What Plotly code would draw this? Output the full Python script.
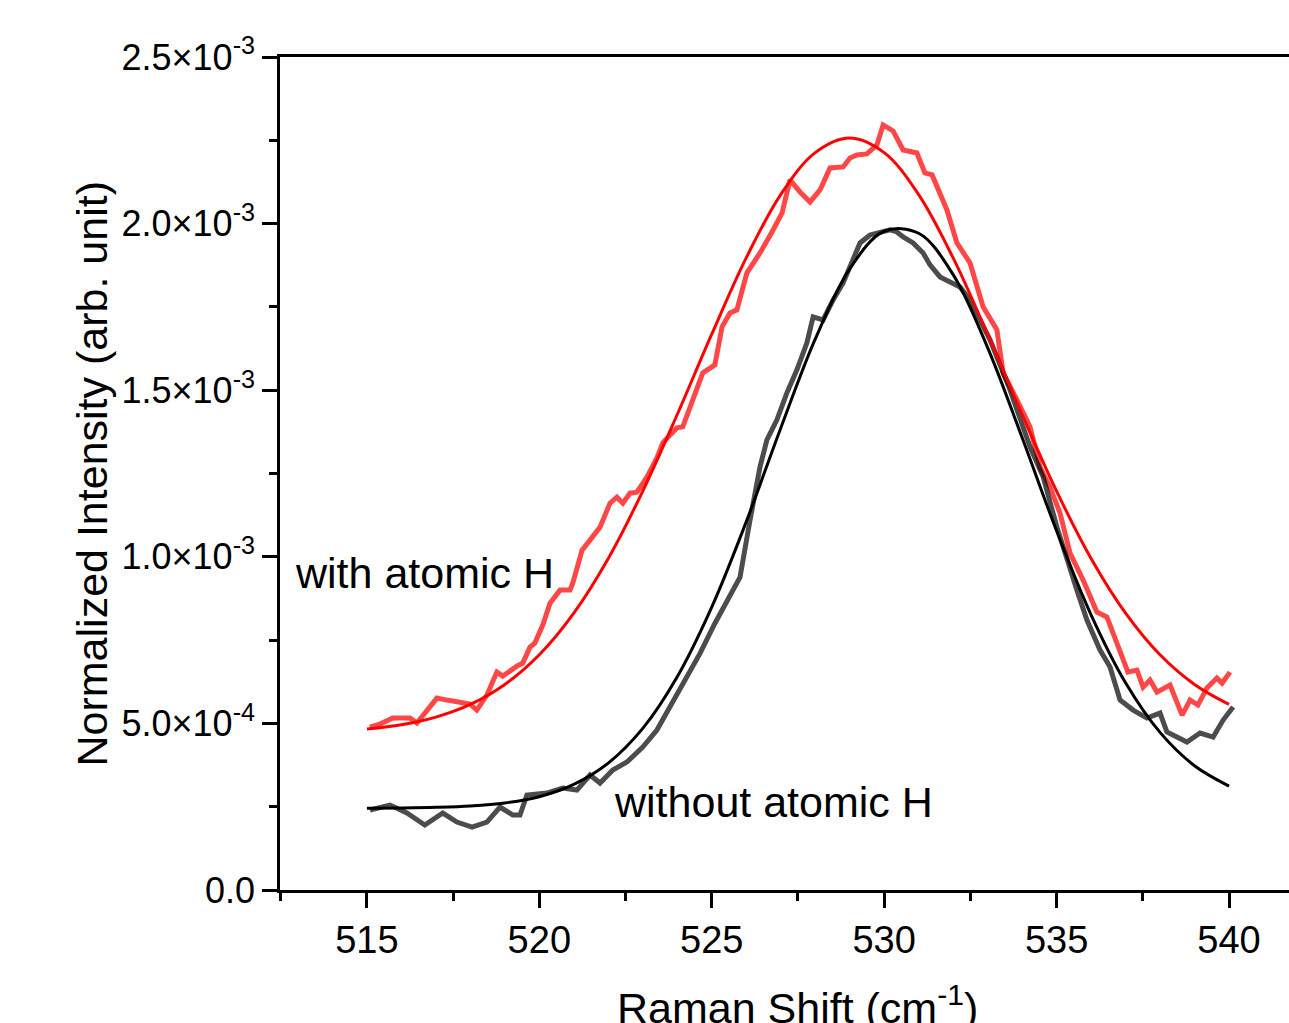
import plotly.graph_objects as go
import numpy as np

# ---- data (intensity values in units of 1e-3) ----
red_x = [515.09, 515.38, 515.75, 516.25, 516.45, 517.03, 517.32, 517.70, 517.99, 518.19,
         518.48, 518.77, 518.94, 519.35, 519.52, 519.73, 519.87, 520.10, 520.31, 520.60,
         520.89, 520.97, 521.24, 521.47, 521.76, 522.05, 522.25, 522.42, 522.63, 522.83,
         523.12, 523.41, 523.58, 523.99, 524.16, 524.45, 524.74, 525.09, 525.30, 525.53,
         525.73, 526.02, 526.40, 526.78, 527.04, 527.27, 527.56, 527.85, 528.14, 528.43,
         528.81, 529.01, 529.21, 529.50, 529.79, 529.97, 530.26, 530.55, 530.95, 531.18,
         531.39, 531.82, 532.11, 532.49, 532.87, 533.27, 533.45, 533.85, 534.23, 534.52,
         534.81, 535.10, 535.39, 535.77, 536.17, 536.46, 536.84, 537.07, 537.33, 537.51,
         537.71, 537.91, 538.29, 538.64, 538.87, 539.10, 539.36, 539.65, 539.80, 540.03]
red_y = [0.489, 0.498, 0.516, 0.516, 0.501, 0.576, 0.570, 0.564, 0.558, 0.540,
         0.585, 0.654, 0.642, 0.672, 0.681, 0.729, 0.741, 0.795, 0.861, 0.900,
         0.900, 0.921, 1.020, 1.050, 1.089, 1.161, 1.179, 1.161, 1.191, 1.194,
         1.239, 1.297, 1.342, 1.387, 1.390, 1.471, 1.552, 1.576, 1.690, 1.732,
         1.741, 1.852, 1.912, 1.981, 2.032, 2.131, 2.095, 2.065, 2.101, 2.167,
         2.170, 2.197, 2.206, 2.209, 2.236, 2.296, 2.278, 2.221, 2.212, 2.152,
         2.146, 2.041, 1.942, 1.882, 1.750, 1.681, 1.552, 1.471, 1.390, 1.269,
         1.209, 1.131, 1.011, 0.930, 0.834, 0.819, 0.711, 0.654, 0.660, 0.609,
         0.630, 0.594, 0.615, 0.525, 0.570, 0.555, 0.606, 0.636, 0.621, 0.654]

grey_x = [515.09, 515.67, 516.16, 516.68, 517.20, 517.61, 518.05, 518.48, 518.86, 519.23,
          519.44, 519.64, 520.22, 520.68, 521.09, 521.47, 521.76, 522.13, 522.54, 523.00,
          523.41, 523.79, 524.22, 524.66, 525.09, 525.53, 525.82, 526.11, 526.40, 526.60,
          526.89, 527.18, 527.47, 527.76, 527.94, 528.23, 528.52, 528.81, 529.07, 529.30,
          529.59, 529.88, 530.17, 530.37, 530.55, 530.84, 531.13, 531.33, 531.62, 531.91,
          532.20, 532.49, 533.07, 533.65, 534.23, 534.61, 535.01, 535.59, 535.88, 536.26,
          536.55, 536.84, 537.22, 537.62, 538.00, 538.20, 538.78, 539.16, 539.54, 539.83,
          540.12]
grey_y = [0.240, 0.255, 0.231, 0.195, 0.231, 0.204, 0.189, 0.204, 0.249, 0.225,
          0.225, 0.285, 0.291, 0.306, 0.300, 0.345, 0.321, 0.360, 0.384, 0.429,
          0.480, 0.550, 0.630, 0.710, 0.800, 0.880, 0.939, 1.110, 1.270, 1.351,
          1.411, 1.492, 1.561, 1.642, 1.720, 1.711, 1.771, 1.822, 1.882, 1.942,
          1.966, 1.972, 1.981, 1.975, 1.960, 1.942, 1.912, 1.876, 1.840, 1.825,
          1.810, 1.771, 1.651, 1.501, 1.330, 1.240, 1.089, 0.900, 0.810, 0.720,
          0.669, 0.570, 0.540, 0.516, 0.531, 0.474, 0.444, 0.471, 0.459, 0.510,
          0.549]

fit_x = [515, 516, 517, 518, 519, 520, 521, 522, 523, 524, 525, 526, 527,
         528, 529, 530, 531, 532, 533, 534, 535, 536, 537, 538, 539, 540]
red_fit_y = [0.483, 0.496, 0.519, 0.557, 0.617, 0.706, 0.831, 0.995, 1.197, 1.427,
             1.668, 1.897, 2.087, 2.213, 2.257, 2.213, 2.087, 1.897, 1.668, 1.427,
             1.197, 0.995, 0.831, 0.706, 0.617, 0.557]
black_fit_y = [0.245, 0.246, 0.248, 0.252, 0.261, 0.280, 0.317, 0.381, 0.485, 0.640,
               0.849, 1.105, 1.386, 1.653, 1.864, 1.977, 1.971, 1.847, 1.628, 1.358,
               1.078, 0.826, 0.622, 0.473, 0.373, 0.312]

y_tickvals = [0.0, 0.5e-3, 1.0e-3, 1.5e-3, 2.0e-3, 2.5e-3]
y_ticktext = ["0.0", "5.0×10<sup>-4</sup>", "1.0×10<sup>-3</sup>", "1.5×10<sup>-3</sup>",
              "2.0×10<sup>-3</sup>", "2.5×10<sup>-3</sup>"]
x_tickvals = [515, 520, 525, 530, 535, 540]

label_with = "with atomic H"
label_without = "without atomic H"
x_title = "Raman Shift (cm<sup>-1</sup>)"
y_title = "Normalized Intensity (arb. unit)"

SCALE = 1e-3
FONT = "Arial, Liberation Sans, sans-serif"

fig = go.Figure()
fig.add_trace(go.Scatter(x=red_x, y=np.array(red_y) * SCALE, mode="lines",
                         line=dict(color="rgba(255,0,0,0.72)", width=5), showlegend=False))
fig.add_trace(go.Scatter(x=grey_x, y=np.array(grey_y) * SCALE, mode="lines",
                         line=dict(color="rgba(0,0,0,0.70)", width=5), showlegend=False))
fig.add_trace(go.Scatter(x=fit_x, y=np.array(red_fit_y) * SCALE, mode="lines",
                         line=dict(color="#FF0000", width=3, shape="spline"), showlegend=False))
fig.add_trace(go.Scatter(x=fit_x, y=np.array(black_fit_y) * SCALE, mode="lines",
                         line=dict(color="#000000", width=3, shape="spline"), showlegend=False))

fig.update_layout(
    width=1289, height=1023,
    margin=dict(l=280, r=0, t=57, b=133),
    paper_bgcolor="white", plot_bgcolor="white",
    font=dict(family=FONT, color="black"),
    showlegend=False,
)
fig.update_xaxes(
    range=[512.48, 541.74], showgrid=False, zeroline=False,
    showline=True, linecolor="black", linewidth=2.5, mirror=True,
    tickmode="array", tickvals=x_tickvals,
    ticks="outside", ticklen=15, tickwidth=2.5, tickcolor="black",
    tickfont=dict(size=38, family=FONT, color="black"),
    minor=dict(ticks="outside", dtick=2.5, tick0=512.5, ticklen=8, tickwidth=2.5, tickcolor="black"),
)
fig.update_yaxes(
    range=[0, 2.5e-3], showgrid=False, zeroline=False,
    showline=True, linecolor="black", linewidth=2.5, mirror=False,
    tickmode="array", tickvals=y_tickvals, ticktext=y_ticktext,
    ticks="outside", ticklen=15, tickwidth=2.5, tickcolor="black",
    tickfont=dict(size=36, family=FONT, color="black"),
    minor=dict(ticks="outside", dtick=0.25e-3, tick0=0, ticklen=8, tickwidth=2.5, tickcolor="black"),
)

fig.add_annotation(x=512.85, y=0.951e-3, xref="x", yref="y", text=label_with,
                   showarrow=False, xanchor="left", yanchor="middle",
                   font=dict(size=43, family=FONT, color="black"))
fig.add_annotation(x=522.1, y=0.264e-3, xref="x", yref="y", text=label_without,
                   showarrow=False, xanchor="left", yanchor="middle",
                   font=dict(size=43, family=FONT, color="black"))
fig.add_annotation(x=(797 - 280) / 1009, y=(890 - 976) / 833, xref="paper", yref="paper",
                   text=x_title, showarrow=False, xanchor="center", yanchor="top",
                   font=dict(size=43, family=FONT, color="black"))
fig.add_annotation(x=(91 - 280) / 1009, y=0.5, xref="paper", yref="paper",
                   text=y_title, showarrow=False, textangle=-90, xanchor="center", yanchor="middle",
                   font=dict(size=43, family=FONT, color="black"))

fig.write_html(
    "out.html",
    config={"displayModeBar": False},
    post_script="document.documentElement.style.margin='0';document.body.style.margin='0';"
                "document.body.style.padding='0';document.body.style.overflow='hidden';"
                "document.documentElement.style.overflow='hidden';",
)
